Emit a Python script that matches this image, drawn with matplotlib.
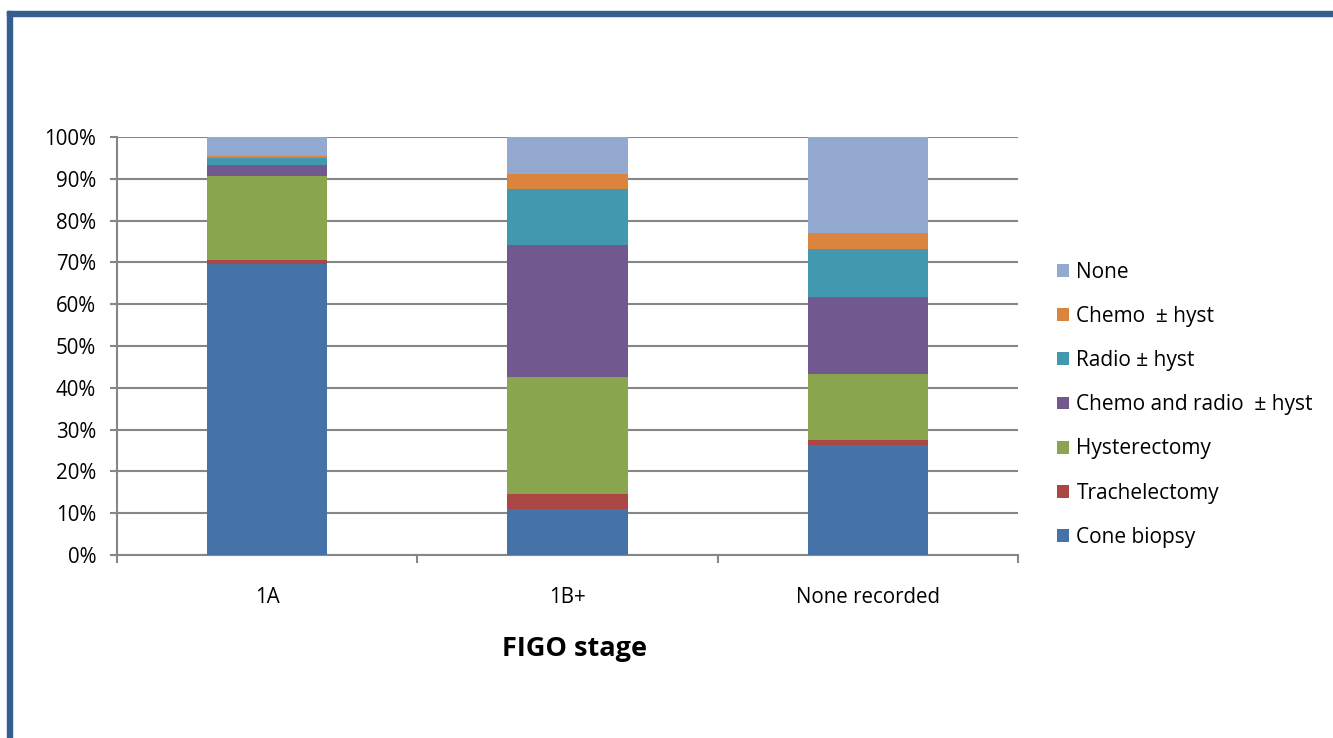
import numpy as np
import matplotlib.pyplot as plt
from matplotlib.patches import Rectangle, Patch

stages = ['1A', '1B+', 'None recorded']

# percentage of patients per treatment, bottom to top of each stack
cone_biopsy = [69.5, 11.0, 26.4]
trachelectomy = [1.0, 3.5, 1.2]
hysterectomy = [20.1, 28.0, 15.8]
chemo_radio = [2.6, 31.6, 18.4]
radio = [1.8, 13.5, 11.4]
chemo = [0.4, 3.5, 3.9]
no_treatment = [4.6, 8.9, 22.9]

series = [cone_biopsy, trachelectomy, hysterectomy, chemo_radio, radio, chemo, no_treatment]
names = ['Cone biopsy', 'Trachelectomy', 'Hysterectomy', 'Chemo and radio  \u00b1 hyst',
         'Radio \u00b1 hyst', 'Chemo  \u00b1 hyst', 'None']
colours = ['#4572a7', '#aa4643', '#89a54e', '#71588f', '#4198af', '#db843d', '#93a9cf']

plt.rcParams['font.family'] = ['Open Sans', 'DejaVu Sans']

fig = plt.figure(figsize=(13.33, 7.38), dpi=100)
ax = fig.add_axes([0.0878, 0.248, 0.6759, 0.5664])

x = np.arange(len(stages))
bottom = np.zeros(len(stages))
for vals, c in zip(series, colours):
    vals = np.array(vals)
    ax.bar(x, vals, 0.4, bottom=bottom, color=c, zorder=3, linewidth=0)
    bottom += vals

ax.set_xlim(-0.5, 2.5)
ax.set_ylim(0, 100)
ax.set_yticks(np.arange(0, 101, 10))
ax.set_yticklabels([f'{v}%' for v in range(0, 101, 10)], fontsize=14.8)
ax.yaxis.grid(True, color='#868686', linewidth=1.5, zorder=0)

# tick marks sit between categories, labels sit under the bars
ax.set_xticks([-0.5, 0.5, 1.5, 2.5])
ax.set_xticklabels([])
ax.set_xticks(x, minor=True)
ax.set_xticklabels(stages, minor=True, fontsize=14.8)
ax.tick_params(axis='x', which='major', length=6, width=1.5, color='#868686')
ax.tick_params(axis='x', which='minor', length=0, pad=23)
ax.tick_params(axis='y', length=5, width=1.5, color='#868686', pad=10)

for side in ['top', 'right']:
    ax.spines[side].set_visible(False)
for side in ['left', 'bottom']:
    ax.spines[side].set_color('#868686')
    ax.spines[side].set_linewidth(1.5)

fig.text(574 / 1333, 0.12, 'FIGO stage', ha='center', va='center',
         fontsize=19.5, fontweight='bold')

handles = [Patch(facecolor=c) for c in colours][::-1]
fig.legend(handles, names[::-1], loc='upper left', bbox_to_anchor=(0.793, 0.645),
           frameon=False, fontsize=15, handlelength=0.58, handleheight=0.58,
           handletextpad=0.35, labelspacing=1.11, borderaxespad=0, borderpad=0)

# dark blue frame along the top and left edges
fig.patches.append(Rectangle((7 / 1333, 0), 5 / 1333, 1 - 11 / 738,
                             transform=fig.transFigure, color='#345e8f', zorder=0))
fig.patches.append(Rectangle((7 / 1333, 1 - 16 / 738), 1, 5 / 738,
                             transform=fig.transFigure, color='#345e8f', zorder=0))

fig.savefig('out.png', dpi=100)
